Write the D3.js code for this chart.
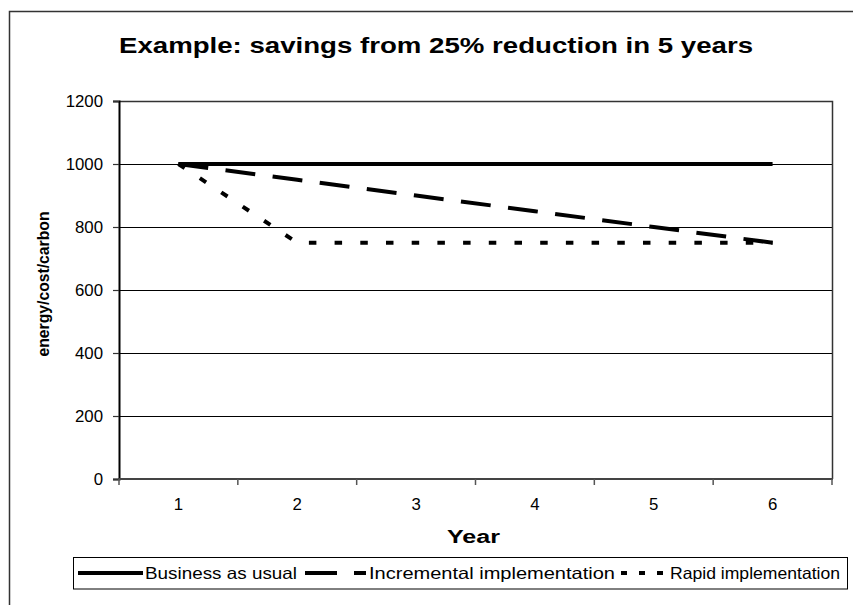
<!DOCTYPE html>
<html>
<head>
<meta charset="utf-8">
<script src="https://cdn.jsdelivr.net/npm/d3@7"></script>
<style>
  html, body { margin: 0; padding: 0; background: #fff; }
  svg { display: block; font-family: Arial, "Liberation Sans", sans-serif; }
</style>
</head>
<body>
<svg id="chart" width="853" height="605"></svg>
<script>
// Years on the category axis
const years = [1, 2, 3, 4, 5, 6];
// Energy / cost / carbon per year for each scenario
const businessAsUsual = [1000, 1000, 1000, 1000, 1000, 1000];
const incremental = [1000, 950, 900, 850, 800, 750];
const rapid = [1000, 750, 750, 750, 750, 750];
// Value axis ticks
const yTicks = [0, 200, 400, 600, 800, 1000, 1200];
const seriesNames = ["Business as usual", "Incremental implementation", "Rapid implementation"];

const svg = d3.select("#chart");
const plot = { left: 119, top: 101, right: 832, bottom: 479 };

// Widen glyphs horizontally by factor k
function widen(sel, k) {
  sel.each(function () {
    const w = this.getComputedTextLength();
    d3.select(this).attr("textLength", w * k).attr("lengthAdjust", "spacingAndGlyphs");
  });
}
function fitWidth(sel, w) {
  sel.attr("textLength", w).attr("lengthAdjust", "spacingAndGlyphs");
}

// Chart frame
svg.append("rect").attr("x", 9.5).attr("y", 11.5).attr("width", 860).attr("height", 620)
  .attr("fill", "#fff").attr("stroke", "#333").attr("stroke-width", 1.5);

const x = d3.scaleBand().domain(years).range([plot.left, plot.right]);
const y = d3.scaleLinear().domain([0, 1200]).range([plot.bottom, plot.top]);

// Gridlines
svg.append("g").selectAll("line").data(yTicks.filter(v => v > 0 && v < 1200)).join("line")
  .attr("x1", plot.left).attr("x2", plot.right)
  .attr("y1", d => Math.round(y(d)) + 0.5).attr("y2", d => Math.round(y(d)) + 0.5)
  .attr("stroke", "#000").attr("stroke-width", 1);

// Plot area border (top and right)
svg.append("path")
  .attr("d", `M${plot.left},${plot.top + 0.5}H${plot.right + 0.5}V${plot.bottom}`)
  .attr("fill", "none").attr("stroke", "#333").attr("stroke-width", 1.5);

// Value axis
const yAxis = svg.append("g").attr("transform", `translate(${plot.left},0)`)
  .call(d3.axisLeft(y).tickValues(yTicks).tickFormat(d3.format("d")).tickSize(6).tickPadding(10));
yAxis.select(".domain").attr("stroke", "#000").attr("stroke-width", 2);
yAxis.selectAll(".tick line").attr("stroke", "#333").attr("stroke-width", 1.2);
yAxis.selectAll(".tick text").attr("font-size", 16).attr("fill", "#000")
  .attr("font-family", "Arial, 'Liberation Sans', sans-serif").call(widen, 1.05);

// Category axis
const xAxis = svg.append("g").attr("transform", `translate(0,${plot.bottom})`)
  .call(d3.axisBottom(x).tickSize(0).tickPadding(20));
xAxis.select(".domain").remove();
xAxis.selectAll(".tick text").attr("font-size", 16).attr("fill", "#000")
  .attr("font-family", "Arial, 'Liberation Sans', sans-serif").call(widen, 1.05);
svg.append("line").attr("x1", plot.left - 1).attr("x2", plot.right + 1)
  .attr("y1", plot.bottom).attr("y2", plot.bottom)
  .attr("stroke", "#444").attr("stroke-width", 2);
svg.append("g").selectAll("line").data(years.concat([null])).join("line")
  .attr("x1", (d, i) => i < years.length ? x(d) : x(years[years.length - 1]) + x.bandwidth())
  .attr("x2", (d, i) => i < years.length ? x(d) : x(years[years.length - 1]) + x.bandwidth())
  .attr("y1", plot.bottom).attr("y2", plot.bottom + 6)
  .attr("stroke", "#555").attr("stroke-width", 1.5);

// Series lines
const line = d3.line().x((d, i) => x(years[i]) + x.bandwidth() / 2).y(d => y(d));
const styles = [
  { data: businessAsUsual, dash: null },
  { data: incremental, dash: "30,17.5" },
  { data: rapid, dash: "7.5,18.2" }
];
svg.append("g").selectAll("path").data(styles).join("path")
  .attr("d", d => line(d.data))
  .attr("fill", "none").attr("stroke", "#000").attr("stroke-width", 4)
  .attr("stroke-dasharray", d => d.dash);

// Titles
svg.append("text").attr("x", 119).attr("y", 53).attr("font-size", 22).attr("font-weight", "bold")
  .text("Example: savings from 25% reduction in 5 years").call(fitWidth, 634);
svg.append("text").attr("x", 447).attr("y", 543).attr("font-size", 17.5).attr("font-weight", "bold")
  .text("Year").call(fitWidth, 53);
svg.append("text").attr("transform", "translate(49,284) rotate(-90)")
  .attr("text-anchor", "middle").attr("font-size", 16.5).attr("font-weight", "bold")
  .text("energy/cost/carbon").call(fitWidth, 145);

// Legend
const legend = svg.append("g");
legend.append("rect").attr("x", 73.5).attr("y", 557.5).attr("width", 774).attr("height", 31.5)
  .attr("fill", "#fff").attr("stroke", "#000").attr("stroke-width", 1);
const legendItems = [
  { name: seriesNames[0], x1: 78, x2: 143, dash: null, tx: 145, tw: 152 },
  { name: seriesNames[1], x1: 305, x2: 366, dash: "32,17", tx: 369, tw: 246 },
  { name: seriesNames[2], x1: 621, x2: 667, dash: "6,12", tx: 670, tw: 170 }
];
const li = legend.selectAll("g.item").data(legendItems).join("g").attr("class", "item");
li.append("line").attr("x1", d => d.x1).attr("x2", d => d.x2).attr("y1", 573).attr("y2", 573)
  .attr("stroke", "#000").attr("stroke-width", 4).attr("stroke-dasharray", d => d.dash);
li.append("text").attr("x", d => d.tx).attr("y", 579).attr("font-size", 16.5)
  .text(d => d.name)
  .each(function (d) { d3.select(this).call(fitWidth, d.tw); });
</script>
</body>
</html>
